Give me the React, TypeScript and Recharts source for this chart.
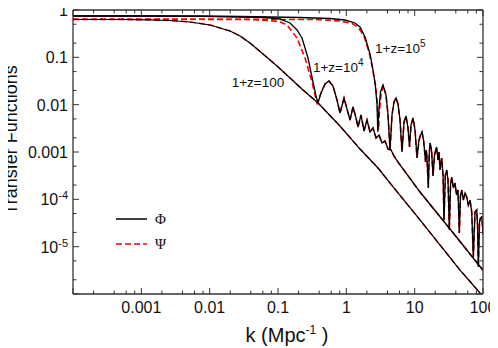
import React from "react";
import { LineChart, Line, XAxis, YAxis, Legend, ReferenceDot } from "recharts";

type Pair = [number, number];

// k (Mpc^-1), transfer function value
const z100: Pair[] = [
  [1e-4, 0.63], [4.88e-4, 0.63], [1.34e-3, 0.621], [2.63e-3, 0.6], [5.15e-3, 0.558],
  [0.0101, 0.482], [0.0199, 0.36], [0.0278, 0.282], [0.0389, 0.201], [0.0604, 0.1175],
  [0.0966, 0.0656], [0.15, 0.0366], [0.232, 0.0204], [0.386, 0.01084], [0.807, 0.00354],
  [1.585, 0.001156], [2.91, 4.59e-4], [4.36, 2.21e-4], [11.97, 3.66e-5], [46.1, 3.21e-6],
  [90.4, 1.05e-6], [126.8, 5.85e-7],
];

const phiHead1e4: Pair[] = [
  [1e-4, 0.7467], [1.339e-3, 0.7467], [7.223e-3, 0.736], [0.0278, 0.7113], [0.06455, 0.6943],
  [0.107, 0.6455], [0.1499, 0.5313], [0.1898, 0.3779], [0.2246, 0.2561], [0.2749, 0.09679],
  [0.3254, 0.03012], [0.36, 0.01524], [0.3851, 0.01084],
];

const psiHead1e4: Pair[] = [
  [1e-4, 0.6361], [7.223e-3, 0.6361], [0.03895, 0.6269], [0.07638, 0.6], [0.107, 0.5578],
  [0.1355, 0.482], [0.1898, 0.2561], [0.2485, 0.09679], [0.3146, 0.03012], [0.348, 0.016],
  [0.3723, 0.01084],
];

const tail1e4: Pair[] = [
  [0.4261, 0.01763], [0.4875, 0.02732], [0.5578, 0.03162], [0.6384, 0.02479], [0.7306, 0.01254],
  [0.8083, 0.006664], [0.925, 0.01382], [1.023, 0.008097], [1.132, 0.004741], [1.252, 0.008926],
  [1.386, 0.005225], [1.482, 0.003373], [1.64, 0.006046], [1.814, 0.002777], [2.007, 0.004741],
  [2.222, 0.002644], [2.458, 0.003213], [2.719, 0.001975], [3.008, 0.002286], [3.328, 0.001549],
  [3.682, 0.001707], [4.074, 0.001157], [4.507, 0.001102], [4.985, 0.0008229], [5.705, 0.0006143],
  [11.97, 0.0001428], [32.91, 2.36e-5], [96.73, 3.371e-6], [126.7, 2.073e-6],
];

const phiHead1e5: Pair[] = [
  [1e-4, 0.7467], [7.223e-3, 0.7467], [0.0278, 0.7288], [0.21, 0.6943], [0.577, 0.6613],
  [0.9565, 0.6146], [1.34, 0.5313], [1.586, 0.4372], [1.877, 0.2689], [2.222, 0.1176],
  [2.458, 0.05398], [2.673, 0.02361], [2.812, 0.009835], [2.888, 0.002644], [3.008, 0.008501],
  [3.164, 0.01851],
];

const psiHead1e5: Pair[] = [
  [1e-4, 0.6361], [0.03895, 0.6361], [0.412, 0.6269], [0.8083, 0.5855], [1.211, 0.5186],
  [1.482, 0.4372], [1.814, 0.2823], [2.147, 0.1296], [2.416, 0.05951], [2.673, 0.02603],
  [2.84, 0.01084], [2.958, 0.002915], [3.059, 0.007713], [3.218, 0.016],
];

const tail1e5: Pair[] = [
  [3.442, 0.02603], [3.808, 0.016], [4.074, 0.006046], [4.359, 0.001102], [4.661, 0.006046],
  [4.985, 0.01138], [5.336, 0.01382], [5.705, 0.01033], [6.105, 0.004741], [6.53, 0.0009995],
  [6.985, 0.004301], [7.471, 0.00576], [7.991, 0.003213], [8.405, 0.001274], [8.842, 0.003716],
  [9.461, 0.005225], [10.12, 0.002914], [10.82, 0.0007464], [11.58, 0.001792], [12.18, 0.002286],
  [12.81, 0.002644], [13.48, 0.001792], [13.94, 0.001102], [14.41, 0.0006143], [14.81, 0.001102],
  [15.16, 0.0007464], [15.84, 0.0001734], [16.33, 0.0008638], [16.77, 0.001549], [17.65, 0.001102],
  [18.56, 0.000311], [19.52, 0.0008638], [20.88, 0.001274], [21.97, 0.0006772], [22.72, 0.0009995],
  [23.5, 0.0004164], [24.88, 0.0007464], [26.0, 0.0003265], [26.89, 3.656e-5], [28.1, 0.0003265],
  [29.45, 0.0004164], [30.76, 0.000256], [32.15, 2.247e-5], [33.47, 0.0002007], [34.85, 0.0002962],
  [36.79, 0.0001734], [38.96, 0.0002212], [40.98, 0.0001234], [43.1, 0.0001573], [45.03, 1.942e-5],
  [46.9, 0.0001234], [48.83, 0.0001573], [51.52, 9.674e-5], [54.57, 0.000136], [57.78, 0.0001119],
  [60.98, 7.586e-5], [64.58, 9.674e-5], [68.39, 5.396e-5], [72.17, 6.043e-6], [76.43, 5.396e-5],
  [80.94, 5.946e-5], [83.16, 2.867e-5], [85.43, 3.715e-6], [88.93, 3.317e-5], [92.0, 4.03e-5],
  [95.81, 4.231e-5], [98.42, 2.731e-5], [100.1, 1.942e-5], [107.1, 2.247e-5],
];

const xTickValues = [0.001, 0.01, 0.1, 1, 10, 100];
const xTickLabels = ["0.001", "0.01", "0.1", "1", "10", "100"];
const yTickValues = [1, 0.1, 0.01, 0.001, 1e-4, 1e-5];
const yTickLabels = ["1", "0.1", "0.01", "0.001", "10^-4", "10^-5"];

const xDecades = [1e-4, 1e-3, 1e-2, 0.1, 1, 10, 100];
const yDecades = [1e-6, 1e-5, 1e-4, 1e-3, 1e-2, 0.1, 1];

const annotations = [
  { k: 0.021, t: 0.024, text: "1+z=100" },
  { k: 0.325, t: 0.0497, text: "1+z=10^4" },
  { k: 2.63, t: 0.1235, text: "1+z=10^5" },
];

const legendItems = [
  { label: "Φ", color: "#000", dash: undefined as string | undefined },
  { label: "Ψ", color: "#ff0000", dash: "6 3" },
];

const FONT = "'Liberation Sans', Arial, Helvetica, sans-serif";
const AXIS = "#333";
const PHI = "#000";
const PSI = "#ff0000";

const toPts = (arr: Pair[]) => arr.map(([k, t]) => ({ k, t }));

const xTicks = [
  ...xDecades,
  ...xDecades.slice(0, -1).flatMap((d) => [2, 4, 6, 8].map((m) => d * m)),
].sort((a, b) => a - b);
const yTicks = [
  ...yDecades,
  ...yDecades.slice(0, -1).flatMap((d) => [2, 5].map((m) => d * m)),
].sort((a, b) => a - b);

const isMajor = (v: number) => {
  const l = Math.log10(v);
  return Math.abs(l - Math.round(l)) < 1e-6;
};
const findLabel = (values: number[], labels: string[], v: number) => {
  const i = values.findIndex((u) => Math.abs(Math.log10(u) - Math.log10(v)) < 1e-6);
  return i >= 0 ? labels[i] : null;
};

function SupText({ x, y, label, anchor, size, supSize, rise }: any) {
  const [base, sup] = label.split("^");
  return (
    <text x={x} y={y} textAnchor={anchor} fontSize={size} fontFamily={FONT} fill="#111">
      {base}
      {sup && (
        <tspan dy={-rise} fontSize={supSize}>
          {sup}
        </tspan>
      )}
    </text>
  );
}

const BottomTick = ({ x, y, payload }: any) => {
  const lab = findLabel(xTickValues, xTickLabels, payload.value);
  return (
    <g>
      <line x1={x} x2={x} y1={y} y2={y - (isMajor(payload.value) ? 6 : 3.5)} stroke={AXIS} />
      {lab && <SupText x={x} y={y + 19} label={lab} anchor="middle" size={16} supSize={11} rise={6} />}
    </g>
  );
};

const TopTick = ({ x, y, payload }: any) => (
  <line x1={x} x2={x} y1={y} y2={y + (isMajor(payload.value) ? 6 : 3.5)} stroke={AXIS} />
);

const LeftTick = ({ x, y, payload }: any) => {
  const lab = findLabel(yTickValues, yTickLabels, payload.value);
  return (
    <g>
      <line x1={x} x2={x + (isMajor(payload.value) ? 6 : 3.5)} y1={y} y2={y} stroke={AXIS} />
      {lab && <SupText x={x - 5} y={y + 6} label={lab} anchor="end" size={16} supSize={11} rise={6} />}
    </g>
  );
};

const RightTick = ({ x, y, payload }: any) => (
  <line x1={x} x2={x - (isMajor(payload.value) ? 6 : 3.5)} y1={y} y2={y} stroke={AXIS} />
);

const XTitle = ({ viewBox }: any) => (
  <text x={viewBox.x + viewBox.width / 2 + 9} y={viewBox.y + 48} textAnchor="middle" fontSize={20} fontFamily={FONT} fill="#111">
    k (Mpc
    <tspan dy={-8} fontSize={12}>-1</tspan>
    <tspan dy={8}> )</tspan>
  </text>
);

const YTitle = ({ viewBox }: any) => {
  const cx = viewBox.x + 17;
  const cy = viewBox.y + viewBox.height / 2 - 12;
  return (
    <text x={cx} y={cy} transform={`rotate(-90 ${cx} ${cy})`} textAnchor="middle" fontSize={18} fontFamily={FONT} fill="#111">
      Transfer Functions
    </text>
  );
};

const LegendBox = () => (
  <svg width={70} height={50}>
    {legendItems.map((it, i) => (
      <g key={it.label}>
        <line x1={2} x2={33} y1={11 + i * 25} y2={11 + i * 25} stroke={it.color} strokeWidth={1.5} strokeDasharray={it.dash} />
        <text x={41} y={16 + i * 25} fontSize={15} fontFamily="'Liberation Serif', serif" fill="#111">
          {it.label}
        </text>
      </g>
    ))}
  </svg>
);

export default function App() {
  return (
    <div style={{ width: 498, height: 348, margin: "-8px 0 0 -8px", fontFamily: FONT }}>
      <LineChart width={498} height={348} margin={{ top: 9, right: 14, bottom: 0, left: 0 }}>
        <XAxis
          dataKey="k"
          type="number"
          scale="log"
          domain={[1e-4, 100]}
          allowDataOverflow
          ticks={xTicks}
          interval={0}
          tick={BottomTick}
          tickLine={false}
          tickSize={0}
          tickMargin={0}
          height={54}
          axisLine={{ stroke: AXIS, strokeWidth: 1.3 }}
          label={<XTitle />}
        />
        <XAxis
          xAxisId="top"
          orientation="top"
          dataKey="k"
          type="number"
          scale="log"
          domain={[1e-4, 100]}
          allowDataOverflow
          ticks={xTicks}
          interval={0}
          tick={TopTick}
          tickLine={false}
          tickSize={0}
          tickMargin={0}
          height={1}
          axisLine={{ stroke: AXIS, strokeWidth: 1.3 }}
        />
        <YAxis
          type="number"
          scale="log"
          domain={[1e-6, 1]}
          allowDataOverflow
          ticks={yTicks}
          interval={0}
          tick={LeftTick}
          tickLine={false}
          tickSize={0}
          tickMargin={0}
          width={73}
          axisLine={{ stroke: AXIS, strokeWidth: 1.3 }}
          label={<YTitle />}
        />
        <YAxis
          yAxisId="right"
          orientation="right"
          type="number"
          scale="log"
          domain={[1e-6, 1]}
          allowDataOverflow
          ticks={yTicks}
          interval={0}
          tick={RightTick}
          tickLine={false}
          tickSize={0}
          tickMargin={0}
          width={1}
          axisLine={{ stroke: AXIS, strokeWidth: 1.3 }}
        />
        <Legend
          content={<LegendBox />}
          layout="vertical"
          align="center"
          verticalAlign="middle"
          wrapperStyle={{ left: 114, top: 208, width: 70, height: 50 }}
        />
        <Line data={toPts(z100)} dataKey="t" stroke={PSI} strokeWidth={1.5} strokeDasharray="6 3" dot={false} isAnimationActive={false} />
        <Line data={toPts([...psiHead1e4, ...tail1e4])} dataKey="t" stroke={PSI} strokeWidth={1.6} strokeDasharray="6 3" dot={false} isAnimationActive={false} />
        <Line data={toPts([...psiHead1e5, ...tail1e5])} dataKey="t" stroke={PSI} strokeWidth={1.6} strokeDasharray="6 3" dot={false} isAnimationActive={false} />
        <Line data={toPts(z100)} dataKey="t" stroke={PHI} strokeWidth={1.2} dot={false} isAnimationActive={false} />
        <Line data={toPts([...phiHead1e4, ...tail1e4])} dataKey="t" stroke={PHI} strokeWidth={1.3} dot={false} isAnimationActive={false} />
        <Line data={toPts([...phiHead1e5, ...tail1e5])} dataKey="t" stroke={PHI} strokeWidth={1.3} dot={false} isAnimationActive={false} />
        {annotations.map((a) => (
          <ReferenceDot
            key={a.text}
            x={a.k}
            y={a.t}
            r={0}
            fill="none"
            stroke="none"
            ifOverflow="visible"
            label={({ viewBox }: any) => (
              <SupText x={viewBox.x} y={viewBox.y} label={a.text} anchor="start" size={13.5} supSize={10} rise={6} />
            )}
          />
        ))}
      </LineChart>
    </div>
  );
}
